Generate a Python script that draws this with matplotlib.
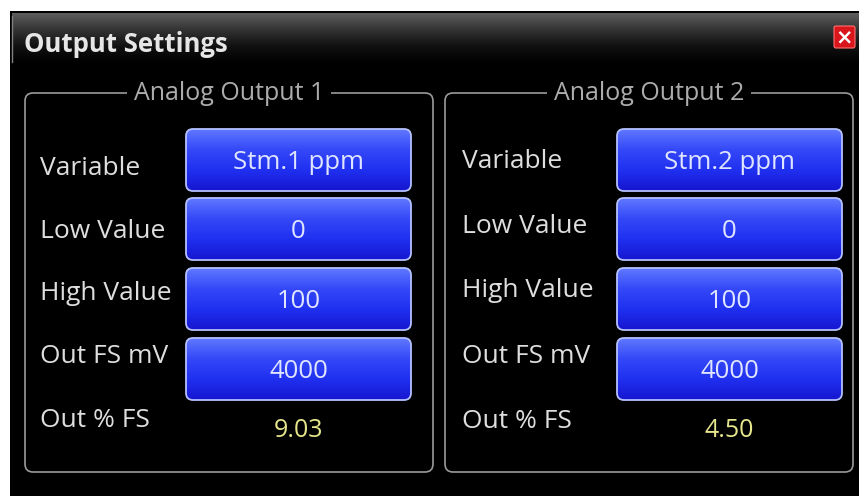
import numpy as np
import matplotlib
matplotlib.use('Agg')
import matplotlib.pyplot as plt
from matplotlib.patches import FancyBboxPatch, Rectangle

# Window content
window_title = 'Output Settings'
group_titles = ['Analog Output 1', 'Analog Output 2']
row_labels = ['Variable', 'Low Value', 'High Value', 'Out FS mV', 'Out % FS']
button_values = [['Stm.1 ppm', '0', '100', '4000'],
                 ['Stm.2 ppm', '0', '100', '4000']]
out_pct_fs = ['9.03', '4.50']

W, H = 859, 496

fig = plt.figure(figsize=(W / 100, H / 100), dpi=100)
ax = fig.add_axes([0, 0, 1, 1])
ax.set_xlim(0, W)
ax.set_ylim(H, 0)
ax.axis('off')
fig.patch.set_facecolor('white')

# Window body
ax.add_patch(Rectangle((10, 11), W - 10, H - 11, facecolor='black', edgecolor='none', zorder=0))

# Title bar gradient
grad = np.linspace(0, 1, 100)[:, None]
bar_cmap = matplotlib.colors.LinearSegmentedColormap.from_list('bar', ['#5e5e5e', '#333333', '#111111', '#000000'])
ax.imshow(grad, extent=(12, W, 63, 13), cmap=bar_cmap, aspect='auto', zorder=1)
ax.plot([11.5, 11.5], [16, 62], color='#808080', lw=1, zorder=2)
ax.text(24, 52, window_title, color='#e6e6e6', fontsize=18.5, fontweight='bold',
        family='Open Sans', va='baseline', ha='left', zorder=3)

# Close button
close = FancyBboxPatch((834, 26), 21, 22, boxstyle='round,pad=0,rounding_size=2',
                       facecolor='#d8161c', edgecolor='#ff7070', lw=0.8, zorder=3)
ax.add_patch(close)
ax.text(844.5, 37.5, '\u00d7', color='white', fontsize=15, fontweight='bold', ha='center', va='center', zorder=4)

btn_cmap = matplotlib.colors.LinearSegmentedColormap.from_list('btn', ['#6078ff', '#3448f8', '#2030f0', '#1616d0'])

frame_x = [25, 445]
frame_w = 408
label_x = [40, 462]
btn_x = [186, 617]
btn_w = 225
btn_tops = [129, 198, 268, 338]
btn_h = 62
label_base = [[175, 238, 300, 363, 427], [168, 233, 297, 363, 428]]

for g in range(2):
    fx = frame_x[g]
    # Group frame
    frame = FancyBboxPatch((fx, 93), frame_w, 379, boxstyle='round,pad=0,rounding_size=8',
                           facecolor='none', edgecolor='#9a9a9a', lw=1.2, zorder=2)
    ax.add_patch(frame)
    t = ax.text(fx + frame_w / 2, 100, group_titles[g], color='#acacac', fontsize=18,
                family='Open Sans', ha='center', va='baseline', zorder=4)
    t.set_bbox(dict(facecolor='black', edgecolor='none', pad=5))

    for i, lab in enumerate(row_labels):
        ax.text(label_x[g], label_base[g][i], lab, color='#dedede', fontsize=19,
                family='Open Sans', ha='left', va='baseline', zorder=3)

    bx = btn_x[g]
    for i, val in enumerate(button_values[g]):
        top = btn_tops[i]
        patch = FancyBboxPatch((bx, top), btn_w, btn_h, boxstyle='round,pad=0,rounding_size=7',
                               facecolor='none', edgecolor='#b4c0ff', lw=1.3, zorder=3)
        ax.add_patch(patch)
        im = ax.imshow(grad, extent=(bx, bx + btn_w, top + btn_h, top), cmap=btn_cmap,
                       aspect='auto', zorder=2)
        im.set_clip_path(patch)
        ax.text(bx + btn_w / 2, top + btn_h / 2 + 9, val, color='#dfe4ff', fontsize=18.5,
                family='Open Sans', ha='center', va='baseline', zorder=4)

    ax.text(bx + btn_w / 2, 437, out_pct_fs[g], color='#e6e68c', fontsize=18, family='Open Sans',
            ha='center', va='baseline', zorder=3)

fig.savefig('out.png', dpi=100, facecolor='white')
